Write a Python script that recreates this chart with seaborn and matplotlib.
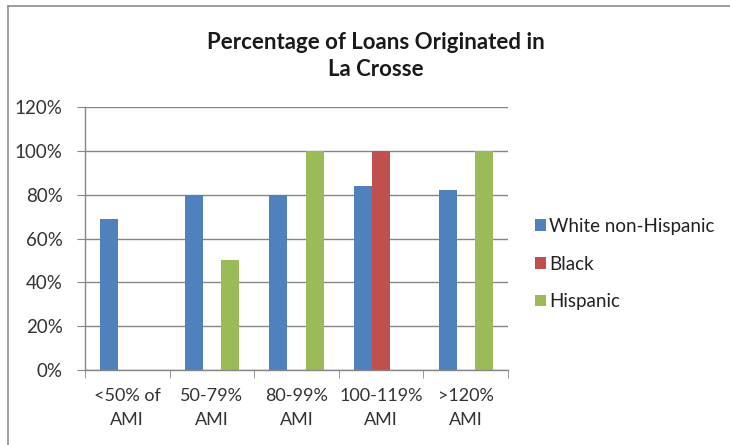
import numpy as np
import pandas as pd
import matplotlib
matplotlib.use("Agg")
import matplotlib.pyplot as plt
import seaborn as sns
from matplotlib.patches import Patch
from matplotlib.lines import Line2D
from matplotlib.ticker import FixedLocator

# Data
categories = ["<50% of\nAMI", "50-79%\nAMI", "80-99%\nAMI", "100-119%\nAMI", ">120%\nAMI"]
white_non_hispanic = [69, 80, 80, 84, 82]
black = [np.nan, np.nan, np.nan, 100, np.nan]
hispanic = [np.nan, 50, 100, np.nan, 100]
groups = ["White non-Hispanic", "Black", "Hispanic"]
colors = ["#4F81BD", "#C0504D", "#9BBB59"]

df = pd.DataFrame({
    "Category": categories * 3,
    "Group": [g for g in groups for _ in categories],
    "Value": white_non_hispanic + black + hispanic,
})

sns.set_style("white")
plt.rcParams["font.family"] = ["Lato", "DejaVu Sans"]

fig = plt.figure(figsize=(7.3, 4.45), dpi=100)
ax = fig.add_axes([85 / 730, 75 / 445, 423 / 730, 263 / 445])

# outer chart border, only left and top edges are visible in the reference
border = dict(transform=fig.transFigure, color="#8c8c8c", linewidth=1.2)
fig.lines.append(Line2D([7.5 / 730, 7.5 / 730], [0, 1 - 6 / 445], **border))
fig.lines.append(Line2D([7.5 / 730, 1], [1 - 6 / 445, 1 - 6 / 445], **border))

sns.barplot(data=df, x="Category", y="Value", hue="Group", order=categories,
            hue_order=groups, palette=colors, width=0.64, saturation=1,
            dodge=True, ax=ax, legend=False, edgecolor="none", linewidth=0)

ax.set_ylim(0, 120)
ax.set_xlim(-0.5, len(categories) - 0.5)
ax.set_yticks(range(0, 121, 20))
ax.set_yticklabels([f"{v}%" for v in range(0, 121, 20)], fontsize=13.5, color="#333333")
ax.set_xticks(range(len(categories)))
ax.set_xticklabels(categories, fontsize=13, color="#333333", linespacing=1.6)
ax.xaxis.set_minor_locator(FixedLocator(np.arange(-0.5, len(categories), 1)))
ax.tick_params(axis="x", which="major", length=0, pad=13)
ax.tick_params(axis="x", which="minor", length=6, color="#868686", direction="out", bottom=True)
ax.tick_params(axis="y", length=6, color="#868686", direction="out", left=True, pad=10)
ax.set_xlabel("")
ax.set_ylabel("")
ax.yaxis.grid(True, color="#868686", linewidth=1)
ax.set_axisbelow(True)
for side in ["top", "right"]:
    ax.spines[side].set_visible(False)
for side in ["left", "bottom"]:
    ax.spines[side].set_color("#868686")
    ax.spines[side].set_linewidth(1)

fig.text(376 / 730, 1 - 56 / 445, "Percentage of Loans Originated in\nLa Crosse",
         ha="center", va="center", fontsize=16, fontweight="bold",
         color="#1a1a1a", linespacing=1.35)

handles = [Patch(facecolor=c, edgecolor="none") for c in colors]
fig.legend(handles, groups, loc="center left", bbox_to_anchor=(518 / 730, 1 - 264 / 445),
           frameon=False, fontsize=13.5, handlelength=0.6, handleheight=0.6,
           handletextpad=0.15, labelspacing=1.1, labelcolor="#222222")

fig.savefig("out.png", dpi=100)
